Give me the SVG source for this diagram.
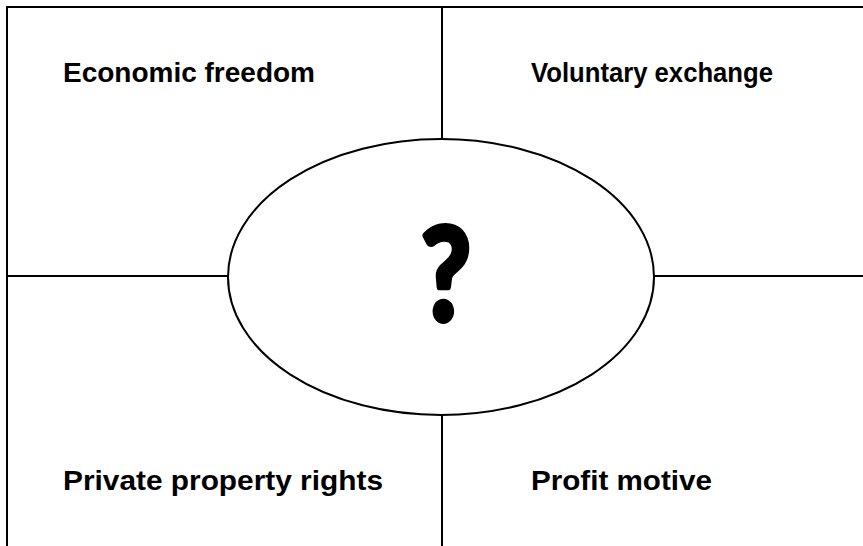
<svg xmlns="http://www.w3.org/2000/svg" width="863" height="546" viewBox="0 0 863 546">
<style>
.ln{stroke:#000;stroke-width:2;fill:none}
.lbl{font-family:"Liberation Sans",Arial,sans-serif;font-weight:bold;font-size:28px;fill:#000}
.q{font-family:Lato,"Open Sans","Liberation Sans",sans-serif;font-weight:bold;font-size:128px;fill:#000;stroke:#000;stroke-width:6;stroke-linejoin:round}
</style>
<rect width="863" height="546" fill="#fff"/>
<g id="connectors">
<line class="ln" x1="7" y1="7" x2="863" y2="7"/>
<line class="ln" x1="7" y1="6" x2="7" y2="546"/>
<line class="ln" x1="442" y1="7" x2="442" y2="139"/>
<line class="ln" x1="442" y1="415" x2="442" y2="546"/>
<line class="ln" x1="7" y1="276" x2="228" y2="276"/>
<line class="ln" x1="654" y1="276" x2="863" y2="276"/>
</g>
<g id="node-center">
<ellipse class="ln" cx="441" cy="277" rx="213" ry="138" fill="#fff"/>
<text class="q" x="421" y="320" textLength="50" lengthAdjust="spacingAndGlyphs">?</text>
</g>
<g id="node-economic-freedom"><text class="lbl" x="63" y="82" textLength="252" lengthAdjust="spacingAndGlyphs">Economic freedom</text></g>
<g id="node-voluntary-exchange"><text class="lbl" x="531" y="82" textLength="242" lengthAdjust="spacingAndGlyphs">Voluntary exchange</text></g>
<g id="node-private-property"><text class="lbl" x="63" y="490" textLength="320" lengthAdjust="spacingAndGlyphs">Private property rights</text></g>
<g id="node-profit-motive"><text class="lbl" x="531" y="490" textLength="181" lengthAdjust="spacingAndGlyphs">Profit motive</text></g>
</svg>
